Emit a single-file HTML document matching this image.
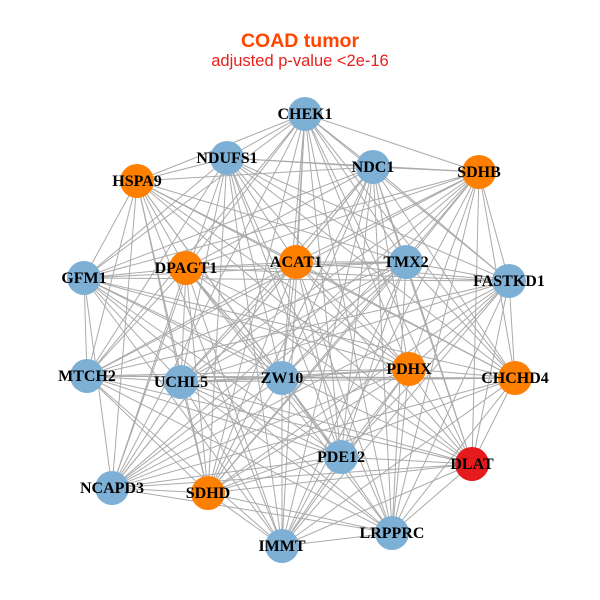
<!DOCTYPE html>
<html><head><meta charset="utf-8"><style>
html,body{margin:0;padding:0;background:#fff;}
svg{display:block;}
</style></head><body>
<svg id="s" width="600" height="600" xmlns="http://www.w3.org/2000/svg">
<rect width="600" height="600" fill="#fff"/>
<text x="300" y="47" text-anchor="middle" font-family="Liberation Sans, sans-serif" font-weight="bold" font-size="19.5" fill="#FF4500">COAD tumor</text>
<text x="300" y="66" text-anchor="middle" font-family="Liberation Sans, sans-serif" font-size="16.5" fill="#E8201C">adjusted p-value &lt;2e-16</text>
<g id="e" stroke="#aaaaaa" stroke-width="1"></g>
<g id="n"></g>
</svg>
<script>
var B="#7EB0D5",O="#FF7F00",R="#E41A1C";
var N=[["CHEK1",305,114,B],["NDUFS1",227,158,B],["NDC1",373,167,B],["SDHB",479,172,O],["HSPA9",137,181,O],["DPAGT1",186,268,O],["ACAT1",296,262,O],["TMX2",406,262,B],["GFM1",84,278,B],["FASTKD1",509,281,B],["MTCH2",87,376,B],["UCHL5",181,382,B],["ZW10",282,378,B],["PDHX",409,369,O],["CHCHD4",515,378,O],["PDE12",341,457,B],["DLAT",472,464,R],["NCAPD3",112,488,B],["SDHD",208,493,O],["IMMT",282,546,B],["LRPPRC",392,533,B]];
var ns="http://www.w3.org/2000/svg",e=document.getElementById("e"),g=document.getElementById("n");
for(var i=0;i<N.length;i++)for(var j=i+1;j<N.length;j++){
 if((i*7+j*3)%11==0)continue;
 var l=document.createElementNS(ns,"line");
 l.setAttribute("x1",N[i][1]);l.setAttribute("y1",N[i][2]);l.setAttribute("x2",N[j][1]);l.setAttribute("y2",N[j][2]);e.appendChild(l);}
N.forEach(function(d){
 var c=document.createElementNS(ns,"circle");c.setAttribute("cx",d[1]);c.setAttribute("cy",d[2]);c.setAttribute("r",17);c.setAttribute("fill",d[3]);g.appendChild(c);});
N.forEach(function(d){
 var t=document.createElementNS(ns,"text");t.setAttribute("x",d[1]);t.setAttribute("y",d[2]+5);t.setAttribute("text-anchor","middle");
 t.setAttribute("font-family","Liberation Serif, serif");t.setAttribute("font-weight","bold");t.setAttribute("font-size","16");t.setAttribute("fill","#000");
 t.textContent=d[0];g.appendChild(t);});
</script>
</body></html>
